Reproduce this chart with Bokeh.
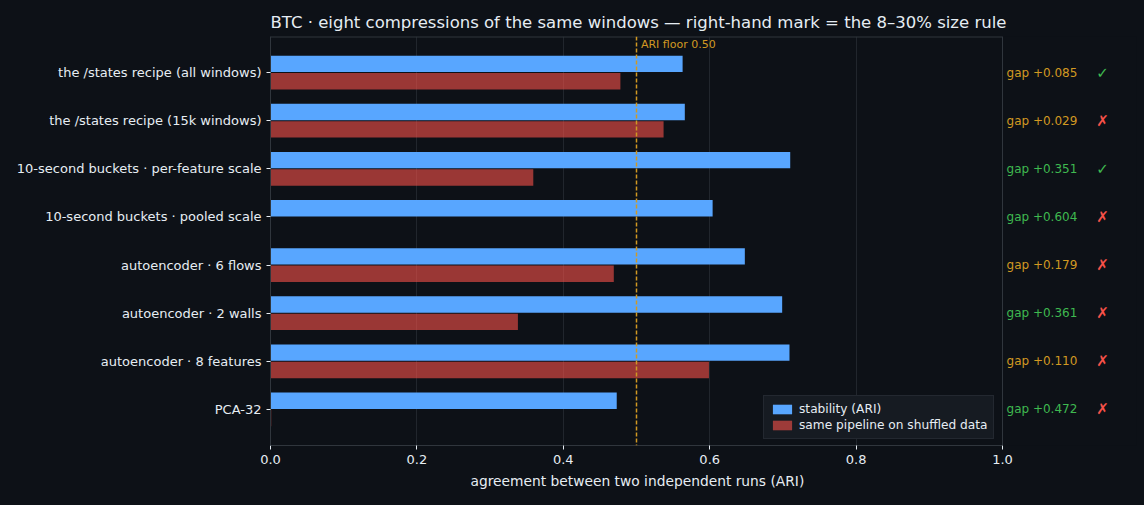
from bokeh.plotting import figure
from bokeh.models import Range1d, Span, Label, LabelSet, ColumnDataSource, FixedTicker, Title
from bokeh.core.properties import value
from bokeh.embed import file_html
from bokeh.resources import INLINE

metodos = [
    "the /states recipe (all windows)",
    "the /states recipe (15k windows)",
    "10-second buckets · per-feature scale",
    "10-second buckets · pooled scale",
    "autoencoder · 6 flows",
    "autoencoder · 2 walls",
    "autoencoder · 8 features",
    "PCA-32",
]
estabilidad = [0.563, 0.566, 0.710, 0.604, 0.648, 0.699, 0.709, 0.473]
barajado = [0.478, 0.537, 0.359, 0.0, 0.469, 0.338, 0.599, 0.001]
regla_tamano = [True, False, True, False, False, False, False, False]
piso_ari = 0.50
ticks_x = [0, 0.2, 0.4, 0.6, 0.8, 1.0]

FONDO = "#0d1117"
TEXTO = "#e6edf3"
BORDE = "#30363d"
AZUL = "#58a6ff"
ROJO = "#f85149"
NARANJA = "#d29922"
VERDE = "#3fb950"
FUENTE = "DejaVu Sans"

filas = list(range(len(metodos)))
gaps = [e - b for e, b in zip(estabilidad, barajado)]

# el marco se alarga a la derecha para que quepan las notas; el eje solo llega a 1.0
p = figure(width=1144, height=505, output_backend="svg", toolbar_location=None,
           x_range=Range1d(0, 866 / 732), y_range=Range1d(7.75, -0.75),
           min_border_left=270, min_border_right=8, min_border_top=36, min_border_bottom=60)

p.background_fill_color = FONDO
p.border_fill_color = None  # el fondo de la página hace de borde (sin costuras en svg)
p.outline_line_color = None
p.styles = {"background-color": FONDO}

p.title.text = "BTC · eight compressions of the same windows — right-hand mark = the 8–30% size rule"
p.title.text_color = TEXTO
p.title.text_font = FUENTE
p.title.text_font_size = "16.5px"
p.title.text_font_style = "normal"
p.title.align = "left"
p.title.offset = 0

p.xgrid.grid_line_color = "#21262d"
p.ygrid.grid_line_color = None

# bordes del área 0..1
p.segment(x0=0, y0=-0.75, x1=1, y1=-0.75, line_color=BORDE, line_width=2)
p.add_layout(Span(location=1.0, dimension="height", line_color=BORDE, line_width=1))

fuente_a = ColumnDataSource(dict(y=[f - 0.18 for f in filas], x=estabilidad))
fuente_r = ColumnDataSource(dict(y=[f + 0.18 for f in filas], x=barajado))
p.hbar(y="y", right="x", left=0, height=0.34, source=fuente_a, fill_color=AZUL,
       line_color=None, legend_label="stability (ARI)")
p.hbar(y="y", right="x", left=0, height=0.34, source=fuente_r, fill_color=ROJO, fill_alpha=0.6,
       line_color=None, legend_label="same pipeline on shuffled data")

p.add_layout(Span(location=piso_ari, dimension="height", line_color=NARANJA,
                  line_dash="4 2", line_width=1.5))
p.add_layout(Label(x=piso_ari + 0.006, y=-0.75, text="ARI floor 0.50", text_color=NARANJA,
                   text_font=FUENTE, text_font_size="11px", text_baseline="top", y_offset=-1))

# anotaciones a la derecha
fuente_g = ColumnDataSource(dict(
    x=[1.0055] * len(filas), y=filas,
    t=["gap +%.3f" % g for g in gaps],
    c=[VERDE if g > 0.3 else NARANJA for g in gaps]))
p.add_layout(LabelSet(x="x", y="y", text="t", text_color="c", source=fuente_g,
                      text_font=value(FUENTE), text_font_size=value("12px"),
                      text_baseline="middle"))
fuente_m = ColumnDataSource(dict(
    x=[1.1366] * len(filas), y=filas,
    t=["✓" if r else "✗" for r in regla_tamano],
    c=[VERDE if r else ROJO for r in regla_tamano]))
p.add_layout(LabelSet(x="x", y="y", text="t", text_color="c", source=fuente_m,
                      text_font=value(FUENTE), text_font_size=value("15px"),
                      text_baseline="middle", text_align="center"))

p.xaxis.ticker = FixedTicker(ticks=ticks_x)
p.xaxis.bounds = (0, 1)
p.xaxis.major_label_overrides = {0: "0.0", 1: "1.0"}
p.yaxis.ticker = FixedTicker(ticks=filas)
p.yaxis.major_label_overrides = {i: m for i, m in enumerate(metodos)}
for eje in (p.xaxis, p.yaxis):
    eje.axis_line_color = BORDE
    eje.major_tick_line_color = TEXTO
    eje.major_tick_in = 0
    eje.major_tick_out = 4
    eje.minor_tick_line_color = None
    eje.major_label_text_color = TEXTO
    eje.major_label_text_font = FUENTE
p.xaxis.major_label_text_font_size = "13px"
p.yaxis.major_label_text_font_size = "13px"

# título del eje x, centrado bajo 0..1 (no bajo el marco alargado)
p.add_layout(Title(text="agreement between two independent runs (ARI)", align="left", offset=200,
                   text_color=TEXTO, text_font=FUENTE, text_font_size="13.8px",
                   text_font_style="normal", standoff=8), "below")

p.legend.location = (493, 6)
p.legend.padding = 6
p.legend.spacing = 2
p.legend.background_fill_color = "#161b22"
p.legend.background_fill_alpha = 1
p.legend.border_line_color = BORDE
p.legend.label_text_color = TEXTO
p.legend.label_text_font = FUENTE
p.legend.label_text_font_size = "12.2px"
p.legend.glyph_width = 24
p.legend.glyph_height = 12
p.legend.label_height = 14

html = file_html(p, INLINE)
html = html.replace("</head>", "<style>html, body { background: %s; }</style>\n</head>" % FONDO, 1)
open("out.html", "w").write(html)
